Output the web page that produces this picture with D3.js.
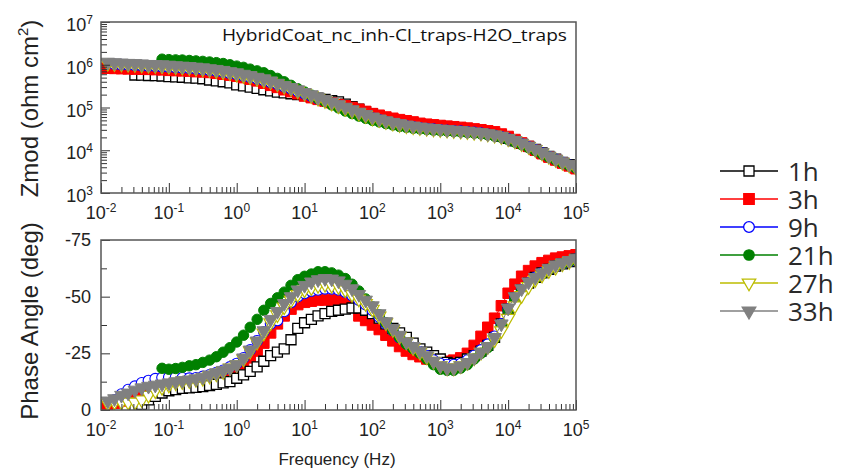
<!DOCTYPE html>
<html>
<head>
<meta charset="utf-8">
<script src="https://cdn.jsdelivr.net/npm/d3@7"></script>
<style>
  body { margin: 0; background: #fff; }
  svg { display: block; }
</style>
</head>
<body>
<svg id="chart" width="859" height="472"></svg>
<script>
// Frequency sweep (Hz), 10 points per decade
const freq = [
  0.01, 0.0126, 0.0158, 0.02, 0.0251, 0.0316, 0.0398, 0.0501, 0.0631, 0.0794,
  0.1, 0.126, 0.158, 0.2, 0.251, 0.316, 0.398, 0.501, 0.631, 0.794,
  1, 1.26, 1.58, 2, 2.51, 3.16, 3.98, 5.01, 6.31, 7.94,
  10, 12.6, 15.8, 20, 25.1, 31.6, 39.8, 50.1, 63.1, 79.4,
  100, 126, 158, 200, 251, 316, 398, 501, 631, 794,
  1000, 1260, 1580, 2000, 2510, 3160, 3980, 5010, 6310, 7940,
  10000, 12600, 15800, 20000, 25100, 31600, 39800, 50100, 63100, 79400,
  100000
];

const seriesLabels = ["1h", "3h", "9h", "21h", "27h", "33h"];

// |Z| (ohm cm^2)
const zmod1h = [
  null, null, null, null, null, 5.75e5, 5.7e5, 5.6e5, 5.56e5, 5.45e5,
  5.3e5, 5.2e5, 5.1e5, 4.95e5, 4.85e5, 4.7e5, 4.4e5, 4.2e5, 4.0e5, 3.75e5,
  3.4e5, 3.2e5, 3.0e5, 2.8e5, 2.6e5, 2.45e5, 2.3e5, 2.2e5, 2.1e5, 2.0e5,
  1.9e5, 1.78e5, 1.66e5, 1.55e5, 1.45e5, 1.35e5, 1.2e5, 1.05e5, 9.1e4, 7.9e4,
  7.1e4, 6.2e4, 5.5e4, 5.0e4, 4.6e4, 4.3e4, 4.0e4, 3.76e4, 3.55e4, 3.4e4,
  3.27e4, 3.16e4, 3.1e4, 3.0e4, 2.9e4, 2.8e4, 2.7e4, 2.54e4, 2.34e4, 2.14e4,
  1.9e4, 1.66e4, 1.45e4, 1.23e4, 1.05e4, 8.7e3, 7.2e3, 6.2e3, 5.2e3, 4.6e3,
  4.0e3
];
const zmod3h = [
  8.3e5, 8.3e5, 8.2e5, 8.1e5, 8.0e5, 7.9e5, 7.85e5, 7.8e5, 7.7e5, 7.6e5,
  7.4e5, 7.3e5, 7.2e5, 7.1e5, 6.9e5, 6.8e5, 6.6e5, 6.3e5, 6.0e5, 5.7e5,
  5.4e5, 5.0e5, 4.6e5, 4.2e5, 3.7e5, 3.3e5, 2.95e5, 2.6e5, 2.35e5, 2.1e5,
  1.86e5, 1.7e5, 1.55e5, 1.41e5, 1.29e5, 1.17e5, 1.1e5, 1.0e5, 9.1e4, 8.1e4,
  7.2e4, 6.6e4, 6.0e4, 5.6e4, 5.2e4, 4.9e4, 4.6e4, 4.27e4, 4.07e4, 3.94e4,
  3.8e4, 3.67e4, 3.55e4, 3.43e4, 3.31e4, 3.16e4, 3.02e4, 2.85e4, 2.7e4, 2.4e4,
  2.1e4, 1.78e4, 1.48e4, 1.23e4, 1.0e4, 8.3e3, 6.9e3, 5.9e3, 5.0e3, 4.3e3,
  3.7e3
];
const zmod9h = [
  null, null, 1.02e6, 1.0e6, 9.9e5, 9.7e5, 9.5e5, 9.3e5, 9.2e5, 9.0e5,
  8.8e5, 8.6e5, 8.4e5, 8.2e5, 8.0e5, 7.7e5, 7.4e5, 7.1e5, 6.7e5, 6.3e5,
  5.9e5, 5.5e5, 5.1e5, 4.7e5, 4.3e5, 3.9e5, 3.5e5, 3.1e5, 2.75e5, 2.4e5,
  2.1e5, 1.85e5, 1.6e5, 1.42e5, 1.24e5, 1.08e5, 9.4e4, 8.2e4, 7.2e4, 6.4e4,
  5.6e4, 5.1e4, 4.6e4, 4.25e4, 3.95e4, 3.7e4, 3.5e4, 3.33e4, 3.2e4, 3.1e4,
  3.0e4, 2.92e4, 2.85e4, 2.78e4, 2.7e4, 2.6e4, 2.5e4, 2.37e4, 2.22e4, 2.06e4,
  1.84e4, 1.62e4, 1.41e4, 1.2e4, 1.02e4, 8.5e3, 7.1e3, 6.1e3, 5.2e3, 4.5e3,
  3.9e3
];
const zmod21h = [
  null, null, null, null, null, null, null, null, null, 1.35e6,
  1.32e6, 1.3e6, 1.29e6, 1.26e6, 1.23e6, 1.2e6, 1.16e6, 1.12e6, 1.07e6, 1.0e6,
  9.3e5, 8.7e5, 7.9e5, 7.2e5, 6.5e5, 5.6e5, 4.8e5, 4.0e5, 3.3e5, 2.75e5,
  2.3e5, 1.95e5, 1.62e5, 1.38e5, 1.15e5, 9.8e4, 8.3e4, 7.2e4, 6.3e4, 5.6e4,
  5.0e4, 4.6e4, 4.2e4, 3.9e4, 3.6e4, 3.43e4, 3.27e4, 3.16e4, 3.05e4, 2.95e4,
  2.88e4, 2.82e4, 2.75e4, 2.69e4, 2.6e4, 2.51e4, 2.43e4, 2.29e4, 2.14e4, 2.0e4,
  1.78e4, 1.55e4, 1.35e4, 1.15e4, 9.8e3, 8.1e3, 6.9e3, 5.9e3, 5.0e3, 4.4e3,
  3.8e3
];
const zmod27h = [
  null, 1.08e6, 1.06e6, 1.04e6, 1.03e6, 1.01e6, 9.9e5, 9.7e5, 9.6e5, 9.4e5,
  9.2e5, 9.0e5, 8.8e5, 8.6e5, 8.3e5, 8.0e5, 7.7e5, 7.3e5, 6.9e5, 6.5e5,
  6.0e5, 5.6e5, 5.2e5, 4.8e5, 4.4e5, 4.0e5, 3.55e5, 3.15e5, 2.8e5, 2.45e5,
  2.15e5, 1.9e5, 1.65e5, 1.45e5, 1.27e5, 1.1e5, 9.6e4, 8.4e4, 7.4e4, 6.5e4,
  5.7e4, 5.2e4, 4.7e4, 4.3e4, 4.0e4, 3.75e4, 3.55e4, 3.38e4, 3.24e4, 3.13e4,
  3.03e4, 2.95e4, 2.88e4, 2.8e4, 2.72e4, 2.62e4, 2.52e4, 2.39e4, 2.24e4, 2.08e4,
  1.86e4, 1.64e4, 1.43e4, 1.22e4, 1.04e4, 8.6e3, 7.2e3, 6.1e3, 5.2e3, 4.5e3,
  3.9e3
];
const zmod33h = [
  null, 1.15e6, 1.12e6, 1.1e6, 1.08e6, 1.07e6, 1.05e6, 1.02e6, 1.01e6, 1.0e6,
  9.8e5, 9.5e5, 9.3e5, 9.1e5, 8.8e5, 8.5e5, 8.1e5, 7.8e5, 7.4e5, 6.9e5,
  6.5e5, 6.0e5, 5.6e5, 5.1e5, 4.7e5, 4.2e5, 3.7e5, 3.3e5, 2.95e5, 2.6e5,
  2.24e5, 2.0e5, 1.74e5, 1.55e5, 1.35e5, 1.17e5, 1.02e5, 8.9e4, 7.8e4, 6.9e4,
  6.0e4, 5.4e4, 4.9e4, 4.5e4, 4.2e4, 3.9e4, 3.7e4, 3.5e4, 3.35e4, 3.24e4,
  3.13e4, 3.02e4, 2.95e4, 2.88e4, 2.79e4, 2.69e4, 2.57e4, 2.43e4, 2.29e4, 2.14e4,
  1.9e4, 1.7e4, 1.48e4, 1.26e4, 1.07e4, 8.9e3, 7.4e3, 6.3e3, 5.4e3, 4.7e3,
  4.1e3
];

// Phase angle (deg)
const phase1h = [
  null, null, null, null, null, -1, -2.5, -4.5, -6, -7.5,
  -8.5, -9, -9.5, -9.8, -10, -10.3, -10.8, -11.3, -12, -12.5,
  -14, -15.5, -17, -19, -21.5, -24, -25.5, -27, -31, -36,
  -38.5, -40, -41.5, -42.5, -43.5, -44, -44.5, -45, -45, -44,
  -42.5, -40.5, -38, -36, -34, -32, -29.5, -27, -25.5, -24,
  -22.5, -21, -20.5, -21, -22.5, -24, -26, -28.5, -32, -38,
  -44.5, -49.5, -53, -56, -58.5, -60.5, -62, -63.5, -64.5, -65.5,
  -66.5
];
const phase3h = [
  -2, -2.5, -3, -4, -5, -6.5, -7.5, -8.5, -9, -9.5,
  -10, -10.5, -11, -11, -11.5, -12, -12.5, -14, -15, -16.5,
  -18, -20, -23, -26, -29.5, -34, -38, -41.5, -44.5, -46.5,
  -47.5, -48, -48.5, -48.5, -48.5, -48.5, -48, -45.5, -41.5, -39.5,
  -37.5, -35.5, -33, -30.5, -28, -26, -24.5, -23.5, -22.5, -22,
  -21.5, -21.5, -22, -23, -25, -28.5, -32.5, -36.5, -40.5, -46,
  -51.5, -55.5, -59, -61.5, -63.5, -65, -66, -67, -67.5, -68,
  -68.5
];
const phase9h = [
  null, null, -4.5, -7, -9, -10.5, -12, -13, -13.8, -14.3,
  -14.5, -14.5, -14.2, -14, -14.2, -14.8, -15.5, -16.5, -17.5, -19,
  -20.5, -23, -26.5, -30.5, -34.5, -38, -39.5, -43.5, -47.5, -50,
  -51.5, -52.5, -53, -53.5, -53.5, -53, -52, -50.5, -48.5, -46.5,
  -44, -41, -38, -35, -32, -29.5, -27.5, -25.5, -24, -22,
  -20.5, -20, -20, -20.5, -22, -24, -26.5, -29, -32.5, -38,
  -44.5, -49.5, -53, -56, -58.5, -60.5, -62, -63.5, -64.5, -65.5,
  -66.5
];
const phase21h = [
  null, null, null, null, null, null, null, null, null, -18.4,
  -18, -18.3, -18.8, -19.5, -20, -21, -22, -23.5, -25.5, -27.5,
  -30, -33, -36.5, -40, -44, -47, -49.5, -52, -55, -57.5,
  -59, -60, -61, -61, -60.5, -59.5, -58, -55.5, -52.5, -49,
  -45.5, -42, -38.5, -35, -32, -29, -27, -25, -22.5, -20,
  -18, -17.5, -17.5, -18.5, -20, -22.5, -25, -27.5, -31.5, -37.5,
  -44, -49, -52.5, -55.5, -58, -60, -62, -63.5, -64.5, -65.5,
  -66.5
];
const phase27h = [
  null, -3, -3.5, -3.5, -3.5, -3.5, -4.5, -6.5, -8.5, -10,
  -11, -12, -12.5, -13, -13.5, -14, -15, -16, -17, -18.5,
  -20, -22.5, -26, -30, -34, -38.5, -42, -45.5, -48.5, -51,
  -53, -54, -55, -55.5, -55, -54.5, -53, -51, -49, -47,
  -44.5, -41.5, -38.5, -35.5, -32.5, -30, -27.5, -25.5, -23.5, -21.5,
  -19.5, -18.5, -18.5, -19.5, -21, -23, -25.5, -28, -31, -35,
  -40.5, -46, -50.5, -54.5, -57.5, -59.5, -61.5, -63, -64.5, -65.5,
  -66.5
];
const phase33h = [
  null, -4, -5, -6.5, -7.5, -8.8, -9.8, -10.5, -11, -11.5,
  -12, -12.5, -13, -13.3, -13.8, -14.5, -15.5, -16.5, -17.5, -18.5,
  -20, -23, -26.5, -30.5, -35, -40, -43.5, -47, -50, -53,
  -55, -56.5, -57.5, -58, -57.8, -57, -55.5, -53.5, -51, -48.5,
  -46, -42.5, -39, -36, -33, -30, -28, -26, -24, -21.5,
  -19.5, -18.5, -18.5, -19.5, -21, -23, -25.5, -28, -32, -38,
  -45, -50, -53.5, -56.5, -58.5, -60.5, -62.5, -64, -65, -66,
  -67
];

// Axis ticks
const freqTickExps = [-2, -1, 0, 1, 2, 3, 4, 5];
const zmodTickExps = [3, 4, 5, 6, 7];
const phaseTicks = [0, -25, -50, -75];
const phaseMinorTicks = [-12.5, -37.5, -62.5];

const chartTitle = "HybridCoat_nc_inh-Cl_traps-H2O_traps";

// ---- layout & scales ----
const svg = d3.select("#chart");
const plotL = 101, plotR = 576;
const topT = 22, topB = 193;
const botT = 240, botB = 410;
const FONT = "'Liberation Sans', Arial, sans-serif";

const x = d3.scaleLog().domain([1e-2, 1e5]).range([plotL, plotR]);
const yZ = d3.scaleLog().domain([1e3, 1e7]).range([topB, topT]);
const yP = d3.scaleLinear().domain([0, -75]).range([botB, botT]);

const zmodSeries = [zmod1h, zmod3h, zmod9h, zmod21h, zmod27h, zmod33h];
const phaseSeries = [phase1h, phase3h, phase9h, phase21h, phase27h, phase33h];

const styles = [
  { color: "#000000", fill: "#ffffff", shape: d3.symbolSquare, size: 100, rot: 0, sw: 1.3 },
  { color: "#ff0000", fill: "#ff0000", shape: d3.symbolSquare, size: 110, rot: 0, sw: 1 },
  { color: "#0000ff", fill: "#ffffff", shape: d3.symbolCircle, size: 90, rot: 0, sw: 1.1 },
  { color: "#008000", fill: "#008000", shape: d3.symbolCircle, size: 85, rot: 0, sw: 1 },
  { color: "#bcbc00", fill: "#ffffff", shape: d3.symbolTriangle, size: 78, rot: 180, sw: 1.2 },
  { color: "#808080", fill: "#808080", shape: d3.symbolTriangle, size: 80, rot: 180, sw: 1 }
];

const defs = svg.append("defs");
defs.append("clipPath").attr("id", "clipTop")
  .append("rect").attr("x", plotL).attr("y", topT).attr("width", plotR - plotL).attr("height", topB - topT);
defs.append("clipPath").attr("id", "clipBot")
  .append("rect").attr("x", plotL).attr("y", botT).attr("width", plotR - plotL).attr("height", botB - botT);

function drawSeries(g, seriesList, yScale, order) {
  order.forEach(si => {
    const vals = seriesList[si];
    const st = styles[si];
    const pts = freq.map((f, i) => ({ f, v: vals[i] })).filter(d => d.v !== null);
    const line = d3.line().x(d => x(d.f)).y(d => yScale(d.v));
    g.append("path").datum(pts)
      .attr("d", line).attr("fill", "none")
      .attr("stroke", st.color).attr("stroke-width", 1);
    g.selectAll(null).data(pts).enter().append("path")
      .attr("d", d3.symbol().type(st.shape).size(st.size))
      .attr("transform", d => `translate(${x(d.f)},${yScale(d.v)}) rotate(${st.rot})`)
      .attr("fill", st.fill).attr("stroke", st.color).attr("stroke-width", st.sw);
  });
}

const gTop = svg.append("g").attr("clip-path", "url(#clipTop)");
drawSeries(gTop, zmodSeries, yZ, [0, 1, 2, 3, 4, 5]);
const gBot = svg.append("g").attr("clip-path", "url(#clipBot)");
drawSeries(gBot, phaseSeries, yP, [1, 0, 2, 3, 4, 5]);

// ---- ticks (pointing inward) ----
const majorFreq = freqTickExps.map(e => Math.pow(10, e));
const minorFreq = [];
freqTickExps.slice(0, -1).forEach(e => {
  for (let m = 2; m <= 9; m++) minorFreq.push(m * Math.pow(10, e));
});
const majorZ = zmodTickExps.map(e => Math.pow(10, e));
const minorZ = [];
zmodTickExps.slice(0, -1).forEach(e => {
  for (let m = 2; m <= 9; m++) minorZ.push(m * Math.pow(10, e));
});

function tickAxis(gen, values, size, tx, ty) {
  const g = svg.append("g").attr("transform", `translate(${tx},${ty})`)
    .call(gen.tickValues(values).tickSize(size).tickFormat(""));
  g.select(".domain").remove();
  g.selectAll(".tick line").attr("stroke", "#333").attr("stroke-width", 1);
  return g;
}
[topB, botB].forEach(yb => {
  tickAxis(d3.axisBottom(x), majorFreq, -10, 0, yb);
  tickAxis(d3.axisBottom(x), minorFreq, -6, 0, yb);
});
tickAxis(d3.axisLeft(yZ), majorZ, -9, plotL, 0);
tickAxis(d3.axisLeft(yZ), minorZ, -6, plotL, 0);
tickAxis(d3.axisLeft(yP), phaseTicks, -9, plotL, 0);
tickAxis(d3.axisLeft(yP), phaseMinorTicks, -6, plotL, 0);

// ---- frames ----
[[topT, topB], [botT, botB]].forEach(([t, b]) => {
  svg.append("rect").attr("x", plotL).attr("y", t)
    .attr("width", plotR - plotL).attr("height", b - t)
    .attr("fill", "none").attr("stroke", "#555").attr("stroke-width", 1.5);
});

// ---- tick labels ----
function powLabel(px, py, exp, anchor) {
  const t = svg.append("text").attr("x", px).attr("y", py)
    .attr("text-anchor", anchor).attr("font-family", FONT)
    .attr("font-size", 18).attr("fill", "#222");
  t.append("tspan").text("10");
  t.append("tspan").attr("dy", -7).attr("font-size", 12).text(exp);
}
freqTickExps.forEach(e => {
  powLabel(x(Math.pow(10, e)), topB + 26, e, "middle");
  powLabel(x(Math.pow(10, e)), botB + 26, e, "middle");
});
zmodTickExps.forEach(e => {
  powLabel(plotL - 8, yZ(Math.pow(10, e)) + 9, e, "end");
});
phaseTicks.forEach(v => {
  svg.append("text").attr("x", plotL - 10).attr("y", yP(v) + 6)
    .attr("text-anchor", "end").attr("font-family", FONT)
    .attr("font-size", 18).attr("fill", "#222").text(v);
});

// ---- axis titles ----
const zt = svg.append("text")
  .attr("transform", `translate(38,${(topT + topB) / 2 + 1}) rotate(-90)`)
  .attr("text-anchor", "middle").attr("font-family", FONT)
  .attr("font-size", 24).attr("fill", "#222");
zt.append("tspan").text("Zmod (ohm cm");
zt.append("tspan").attr("dy", -10).attr("font-size", 15).text("2");
zt.append("tspan").attr("dy", 10).text(")");

svg.append("text")
  .attr("transform", `translate(38,${(botT + botB) / 2 - 4}) rotate(-90)`)
  .attr("text-anchor", "middle").attr("font-family", FONT)
  .attr("font-size", 24).attr("fill", "#222").text("Phase Angle (deg)");

svg.append("text").attr("x", 337).attr("y", 465)
  .attr("text-anchor", "middle").attr("font-family", FONT)
  .attr("font-size", 17).attr("fill", "#222").text("Frequency (Hz)");

// ---- panel title ----
svg.append("text").attr("x", 222).attr("y", 41)
  .attr("font-family", "'Open Sans', sans-serif").attr("font-size", 16.5)
  .attr("fill", "#111").attr("textLength", 345).attr("lengthAdjust", "spacingAndGlyphs")
  .text(chartTitle);

// ---- legend ----
const legend = svg.append("g");
seriesLabels.forEach((lab, i) => {
  const st = styles[i];
  const ly = 171 + i * 28;
  legend.append("line").attr("x1", 720).attr("x2", 778).attr("y1", ly).attr("y2", ly)
    .attr("stroke", st.color).attr("stroke-width", 1.5);
  legend.append("path")
    .attr("d", d3.symbol().type(st.shape).size(st.size))
    .attr("transform", `translate(749,${ly}) rotate(${st.rot})`)
    .attr("fill", st.fill).attr("stroke", st.color).attr("stroke-width", 1.3);
  legend.append("text").attr("x", 788).attr("y", ly + 10)
    .attr("font-family", "'Open Sans', sans-serif").attr("font-size", 26)
    .attr("fill", "#2a2a2a").text(lab);
});
</script>
</body>
</html>
